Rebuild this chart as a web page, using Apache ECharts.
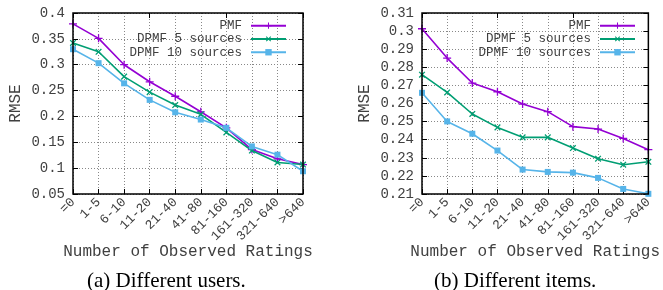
<!DOCTYPE html>
<html>
<head>
<meta charset="utf-8">
<script src="https://cdn.jsdelivr.net/npm/echarts@6/dist/echarts.min.js"></script>
<style>
  html, body { margin: 0; padding: 0; background: #fff; }
  #chart { width: 663px; height: 290px; }
</style>
</head>
<body>
<div id="chart"></div>
<script>
// 横轴类别（观测评分数分组）
const categories = ['=0', '1-5', '6-10', '11-20', '21-40', '41-80', '81-160', '161-320', '321-640', '>640'];

// (a) 不同用户
const usersPMF = [0.379, 0.351, 0.300, 0.267, 0.239, 0.209, 0.178, 0.136, 0.118, 0.107];
const usersDPMF5 = [0.342, 0.325, 0.277, 0.247, 0.222, 0.204, 0.169, 0.134, 0.111, 0.107];
const usersDPMF10 = [0.330, 0.303, 0.264, 0.232, 0.208, 0.194, 0.178, 0.142, 0.126, 0.094];

// (b) 不同物品
const itemsPMF = [0.3013, 0.2851, 0.2713, 0.2665, 0.2597, 0.2555, 0.2472, 0.2459, 0.2407, 0.2345];
const itemsDPMF5 = [0.2759, 0.2661, 0.2542, 0.2468, 0.2413, 0.2413, 0.2354, 0.2295, 0.2262, 0.2278];
const itemsDPMF10 = [0.2659, 0.2501, 0.2433, 0.2340, 0.2235, 0.2222, 0.2218, 0.2189, 0.2128, 0.2101];

const seriesNames = ['PMF', 'DPMF 5 sources', 'DPMF 10 sources'];
const captions = ['(a) Different users.', '(b) Different items.'];

const COLORS = ['#9400d3', '#009e73', '#56b4e9'];
const MONO = '"Liberation Mono", "DejaVu Sans Mono", monospace';
const TEXT = '#404040';

const PLUS = 'path://M4.2,0H5.8V4.2H10V5.8H5.8V10H4.2V5.8H0V4.2H4.2Z';
const SYMBOLS = [
    { symbol: PLUS, size: 8, rotate: 0 },
    { symbol: PLUS, size: 8, rotate: 45 },
    { symbol: 'rect', size: 6, rotate: 0 }
];

const grids = [
    { left: 73, right: 360, top: 13, bottom: 96 },
    { left: 422, right: 11, top: 13, bottom: 96 }
];

const yRanges = [
    { min: 0.05, max: 0.4, interval: 0.05 },
    { min: 0.21, max: 0.31, interval: 0.01 }
];

function fmt(v) {
    return String(+v.toFixed(2));
}

const xAxes = [];
const yAxes = [];
grids.forEach((g, i) => {
    xAxes.push({
        type: 'category', gridIndex: i, data: categories, boundaryGap: false,
        axisLine: { show: false },
        axisTick: { show: true, inside: true, length: 5, lineStyle: { color: '#000' } },
        axisLabel: { rotate: 45, fontFamily: MONO, fontSize: 13, color: TEXT, margin: 6, interval: 0 },
        splitLine: { show: true, lineStyle: { color: '#888', type: [1, 2], width: 1 } },
        name: 'Number of Observed Ratings', nameLocation: 'middle', nameGap: 50, nameMoveOverlap: false,
        nameTextStyle: { fontFamily: MONO, fontSize: 16, color: TEXT }
    });
    // 顶部镜像刻度
    xAxes.push({
        type: 'category', gridIndex: i, data: categories, boundaryGap: false, position: 'top',
        axisLine: { show: false },
        axisTick: { show: true, inside: true, length: 5, lineStyle: { color: '#000' } },
        axisLabel: { show: false }, splitLine: { show: false }
    });
    yAxes.push({
        type: 'value', gridIndex: i, min: yRanges[i].min, max: yRanges[i].max, interval: yRanges[i].interval,
        axisLine: { show: false },
        axisTick: { show: true, inside: true, length: 5, lineStyle: { color: '#000' } },
        axisLabel: { fontFamily: MONO, fontSize: 14, color: TEXT, margin: 8, formatter: fmt },
        splitLine: { show: true, lineStyle: { color: '#888', type: [1, 2], width: 1 } },
        name: 'RMSE', nameLocation: 'middle', nameGap: 49, nameRotate: 90, nameMoveOverlap: false,
        nameTextStyle: { fontFamily: MONO, fontSize: 16, color: TEXT }
    });
    // 右侧镜像刻度
    yAxes.push({
        type: 'value', gridIndex: i, position: 'right', min: yRanges[i].min, max: yRanges[i].max, interval: yRanges[i].interval,
        axisLine: { show: false },
        axisTick: { show: true, inside: true, length: 5, lineStyle: { color: '#000' } },
        axisLabel: { show: false }, splitLine: { show: false }
    });
});

const dataSets = [
    [usersPMF, usersDPMF5, usersDPMF10],
    [itemsPMF, itemsDPMF5, itemsDPMF10]
];

const series = [];
dataSets.forEach((set, gi) => {
    set.forEach((vals, si) => {
        series.push({
            name: seriesNames[si], type: 'line',
            xAxisIndex: gi * 2, yAxisIndex: gi * 2,
            data: vals,
            symbol: SYMBOLS[si].symbol, symbolSize: SYMBOLS[si].size, symbolRotate: SYMBOLS[si].rotate,
            showAllSymbol: true,
            lineStyle: { color: COLORS[si], width: 1.6 },
            itemStyle: { color: COLORS[si] },
            emphasis: { disabled: true },
            animation: false,
            z: 3 + si
        });
    });
});

const legendBase = {
    orient: 'vertical', align: 'right', itemGap: 0, itemWidth: 35, itemHeight: 8,
    top: 19, data: seriesNames, selectedMode: false, padding: 0,
    textStyle: { fontFamily: MONO, fontSize: 12.5, lineHeight: 13.3, color: TEXT, padding: [0, 4, 0, 0] },
    backgroundColor: 'rgba(255,255,255,0)'
};

const chart = echarts.init(document.getElementById('chart'), null, { renderer: 'canvas' });
chart.setOption({
    animation: false,
    grid: grids.map(g => Object.assign({ show: true, borderColor: '#000', borderWidth: 1.5, backgroundColor: 'transparent', z: 10 }, g)),
    xAxis: xAxes,
    yAxis: yAxes,
    legend: [
        Object.assign({}, legendBase, { right: 376 }),
        Object.assign({}, legendBase, { right: 27 })
    ],
    series: series,
    graphic: [
        { type: 'text', left: 87, top: 271, style: { text: captions[0], font: '21px "Liberation Serif", serif', fill: '#000' } },
        { type: 'text', left: 434, top: 271, style: { text: captions[1], font: '21px "Liberation Serif", serif', fill: '#000' } }
    ]
});
</script>
</body>
</html>
